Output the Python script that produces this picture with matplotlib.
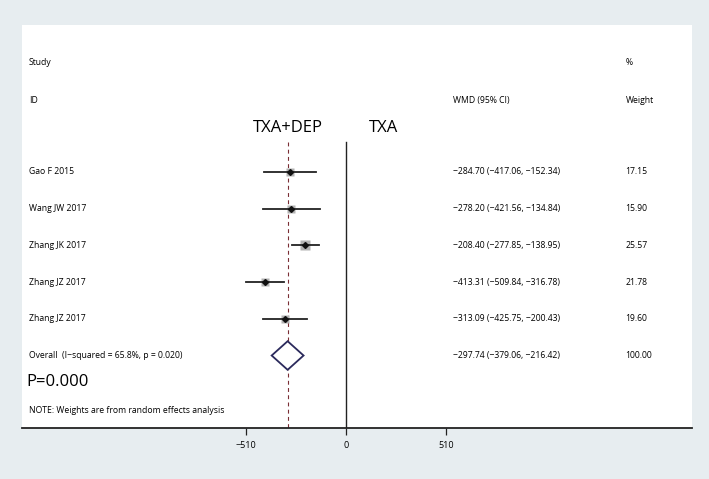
import matplotlib
matplotlib.use("Agg")
import matplotlib.pyplot as plt
import numpy as np

plt.rcParams['font.family'] = ['Open Sans', 'DejaVu Sans']

studies = ["Gao F 2015", "Wang JW 2017", "Zhang JK 2017", "Zhang JZ 2017", "Zhang JZ 2017"]
wmd = [-284.70, -278.20, -208.40, -413.31, -313.09]
ci_low = [-417.06, -421.56, -277.85, -509.84, -425.75]
ci_high = [-152.34, -134.84, -138.95, -316.78, -200.43]
weights = [17.15, 15.90, 25.57, 21.78, 19.60]
overall = -297.74
overall_low = -379.06
overall_high = -216.42
overall_label = "Overall  (I\u2212squared = 65.8%, p = 0.020)"
xticks = [-510, 0, 510]

def fmt(v):
    return f"{v:.2f}".replace("-", "\u2212")

fig = plt.figure(figsize=(7.09, 4.79), dpi=100)
fig.patch.set_facecolor('#e7edf0')
ax = fig.add_axes([22/709, 1-428/479, 670/709, 403/479])
ax.set_facecolor('white')
ax.set_xlim(-1652.4, 1764.6)
ax.set_ylim(6.975, -4.005)
for s in ['top', 'left', 'right']:
    ax.spines[s].set_visible(False)
ax.spines['bottom'].set_linewidth(1.3)
ax.spines['bottom'].set_color('#222222')
ax.set_yticks([])
ax.set_xticks(xticks)
ax.set_xticklabels([str(t).replace("-", "\u2212") for t in xticks], fontsize=6.5)
ax.tick_params(axis='x', length=5, width=0.9, color='#222222', pad=4)

rows = np.arange(len(studies))
line_top = -0.82
# reference lines
ax.plot([0, 0], [line_top, 6.975], color='#222222', lw=1.0, zorder=1)
ax.plot([overall, overall], [line_top, 6.975], color='#7a2e35', lw=0.8,
        ls=(0, (3.5, 3)), zorder=1)

tr = ax.get_yaxis_transform()
fs = 6.2
for i, r in enumerate(rows):
    ax.plot([ci_low[i], ci_high[i]], [r, r], color='#222222', lw=1.3, zorder=3)
    ms = 7.0 * np.sqrt(weights[i] / 25.57)
    ax.plot(wmd[i], r, marker='s', ms=ms, color='#b3b3b3', mec='none', zorder=2)
    ax.plot(wmd[i], r, marker='D', ms=3, color='#111111', zorder=4)
    ax.text(0.0104, r, studies[i], transform=tr, fontsize=fs, va='center', ha='left')
    ax.text(0.643, r, f"{fmt(wmd[i])} ({fmt(ci_low[i])}, {fmt(ci_high[i])})",
            transform=tr, fontsize=fs, va='center', ha='left')
    ax.text(0.901, r, f"{weights[i]:.2f}", transform=tr, fontsize=fs, va='center', ha='left')

# overall diamond
yo = len(studies)
h = 0.39
ax.fill([overall_low, overall, overall_high, overall, overall_low],
        [yo, yo - h, yo, yo + h, yo], facecolor='white', edgecolor='#2b2a5c',
        lw=1.3, zorder=3)
ax.text(0.0104, yo, overall_label, transform=tr, fontsize=fs, va='center', ha='left')
ax.text(0.643, yo, f"{fmt(overall)} ({fmt(overall_low)}, {fmt(overall_high)})",
        transform=tr, fontsize=fs, va='center', ha='left')
ax.text(0.901, yo, "100.00", transform=tr, fontsize=fs, va='center', ha='left')

# headers
ax.text(0.0104, -2.97, "Study", transform=tr, fontsize=fs, va='center', ha='left')
ax.text(0.0104, -1.96, "ID", transform=tr, fontsize=fs, va='center', ha='left')
ax.text(0.643, -1.96, "WMD (95% CI)", transform=tr, fontsize=fs, va='center', ha='left')
ax.text(0.901, -2.97, "%", transform=tr, fontsize=fs, va='center', ha='left')
ax.text(0.901, -1.96, "Weight", transform=tr, fontsize=fs, va='center', ha='left')

ax.text(0.397, -1.2, "TXA+DEP", transform=tr, fontsize=12, va='center', ha='center')
ax.text(0.540, -1.2, "TXA", transform=tr, fontsize=12, va='center', ha='center')
ax.text(0.006, 5.72, "P=0.000", transform=tr, fontsize=12, va='center', ha='left')
ax.text(0.0104, 6.49, "NOTE: Weights are from random effects analysis", transform=tr,
        fontsize=fs, va='center', ha='left')

fig.savefig("out.png", dpi=100, facecolor=fig.get_facecolor())
